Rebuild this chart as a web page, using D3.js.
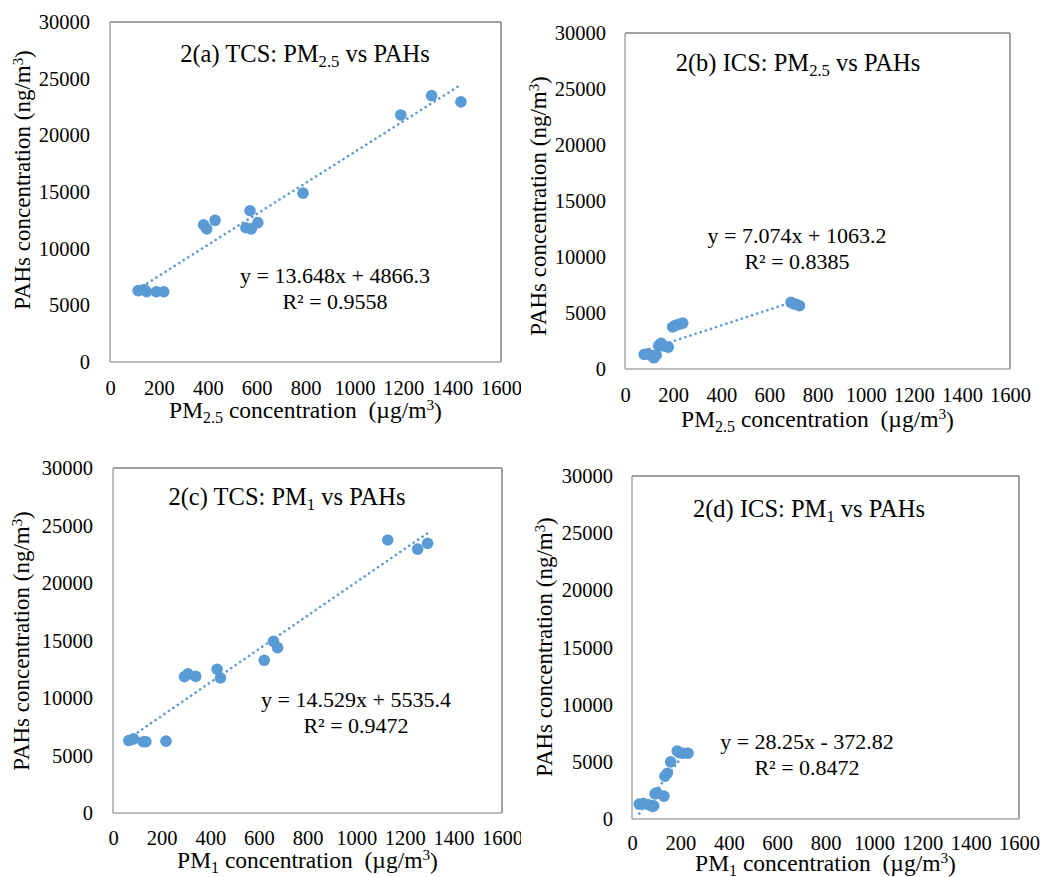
<!DOCTYPE html>
<html>
<head>
<meta charset="utf-8">
<script src="https://cdn.jsdelivr.net/npm/d3@7"></script>
<style>
  html, body { margin: 0; padding: 0; background: #fff; }
  svg { display: block; }
</style>
</head>
<body>
<svg id="chart" width="1052" height="877"></svg>
<script>
// axis ticks (shared by all four panels)
const xTicks = [0, 200, 400, 600, 800, 1000, 1200, 1400, 1600];
const yTicks = [0, 5000, 10000, 15000, 20000, 25000, 30000];

// 2(a) TCS: PM2.5 vs PAHs
const tcsPm25X = [115, 140, 150, 190, 220, 383, 396, 430, 556, 573, 578, 605, 790, 1190, 1316, 1436];
const tcsPm25Y = [6300, 6400, 6200, 6200, 6200, 12100, 11750, 12500, 11850, 13350, 11750, 12300, 14900, 21800, 23500, 22950];

// 2(b) ICS: PM2.5 vs PAHs
const icsPm25X = [80, 95, 110, 120, 130, 140, 150, 162, 180, 198, 210, 225, 240, 690, 705, 725];
const icsPm25Y = [1300, 1350, 1200, 1000, 1250, 2100, 2300, 2050, 1950, 3750, 3900, 4000, 4100, 5950, 5800, 5650];

// 2(c) TCS: PM1 vs PAHs
const tcsPm1X = [65, 85, 125, 135, 218, 294, 308, 340, 428, 442, 622, 660, 677, 1130, 1253, 1294];
const tcsPm1Y = [6300, 6450, 6200, 6200, 6250, 11850, 12100, 11880, 12500, 11750, 13280, 14930, 14380, 23740, 22950, 23450];

// 2(d) ICS: PM1 vs PAHs
const icsPm1X = [30, 48, 68, 85, 90, 95, 102, 132, 136, 146, 160, 187, 196, 212, 232];
const icsPm1Y = [1300, 1350, 1250, 1100, 1150, 2200, 2300, 2000, 3750, 4000, 5000, 5950, 5800, 5750, 5750];

// linear fits as printed on the chart
const fitSlopes = [13.648, 7.074, 14.529, 28.25];
const fitIntercepts = [4866.3, 1063.2, 5535.4, -372.82];
const fitEquations = ["y = 13.648x + 4866.3", "y = 7.074x + 1063.2", "y = 14.529x + 5535.4", "y = 28.25x - 372.82"];
const fitR2 = ["R² = 0.9558", "R² = 0.8385", "R² = 0.9472", "R² = 0.8472"];

const panelNames = ["2(a) TCS: ", "2(b) ICS: ", "2(c) TCS: ", "2(d) ICS: "];
const panelPm = ["2.5", "2.5", "1", "1"];
const panelX = [tcsPm25X, icsPm25X, tcsPm1X, icsPm1X];
const panelY = [tcsPm25Y, icsPm25Y, tcsPm1Y, icsPm1Y];

// layout of each panel in the page (pixels)
const layout = [
  { l: 110, t: 22, r: 501, b: 362, tx: 305, ty: 62, ex: 335, ey: 283, xtb: 395, xlab: 418, ylx: 30, yly: 180, ylr: 90, clip: true },
  { l: 625, t: 33, r: 1010, b: 369, tx: 798, ty: 71, ex: 797, ey: 243, xtb: 402, xlab: 427, ylx: 546, yly: 206, ylr: 606, clip: false },
  { l: 113, t: 468, r: 502, b: 813, tx: 287, ty: 505, ex: 356, ey: 707, xtb: 845, xlab: 868, ylx: 29, yly: 641, ylr: 93, clip: true },
  { l: 632, t: 476, r: 1019, b: 819, tx: 809, ty: 517, ex: 807, ey: 749, xtb: 850, xlab: 871, ylx: 552, yly: 647, ylr: 613, clip: false }
];

const blue = "#5b9bd5";
const serif = '"Liberation Serif", "Times New Roman", Times, serif';
const tickFont = 20.5;

const svg = d3.select("#chart").style("font-family", serif);
const defs = svg.append("defs");
defs.append("clipPath").attr("id", "leftHalf")
  .append("rect").attr("x", 0).attr("y", 0).attr("width", 521).attr("height", 877);

layout.forEach((p, i) => {
  const g = svg.append("g");
  if (p.clip) g.attr("clip-path", "url(#leftHalf)");

  const x = d3.scaleLinear().domain([0, 1600]).range([p.l, p.r]);
  const y = d3.scaleLinear().domain([0, 30000]).range([p.b, p.t]);

  // tick labels
  const xAxis = g.append("g")
    .attr("transform", `translate(0,${p.b})`)
    .call(d3.axisBottom(x).tickValues(xTicks).tickSize(0)
      .tickPadding(p.xtb - p.b - tickFont * 0.71).tickFormat(d3.format("d")));
  const yAxis = g.append("g")
    .attr("transform", `translate(${p.l},0)`)
    .call(d3.axisLeft(y).tickValues(yTicks).tickSize(0)
      .tickPadding(p.l - p.ylr).tickFormat(d3.format("d")));
  [xAxis, yAxis].forEach(a => {
    a.attr("font-family", null).attr("font-size", null);
    a.select(".domain").remove();
    a.selectAll("text").style("font-family", serif)
      .style("font-size", tickFont + "px").attr("fill", "#000");
  });

  // plot frame
  g.append("line").attr("x1", p.l).attr("x2", p.r).attr("y1", p.t).attr("y2", p.t)
    .attr("stroke", "#808080").attr("stroke-width", 1.5);
  g.append("line").attr("x1", p.r).attr("x2", p.r).attr("y1", p.t).attr("y2", p.b)
    .attr("stroke", "#808080").attr("stroke-width", 1.5);
  g.append("line").attr("x1", p.l).attr("x2", p.l).attr("y1", p.t).attr("y2", p.b)
    .attr("stroke", "#a6a6a6").attr("stroke-width", 1.5);
  g.append("line").attr("x1", p.l).attr("x2", p.r).attr("y1", p.b).attr("y2", p.b)
    .attr("stroke", "#a6a6a6").attr("stroke-width", 1.5);

  // points
  const pts = panelX[i].map((v, k) => [v, panelY[i][k]]);
  g.append("g").selectAll("circle")
    .data(pts)
    .join("circle")
    .attr("cx", d => x(d[0]))
    .attr("cy", d => y(d[1]))
    .attr("r", 5.8)
    .attr("fill", blue);

  // dotted trend line over the data range
  const [x0, x1] = d3.extent(panelX[i]);
  const fit = v => fitSlopes[i] * v + fitIntercepts[i];
  g.append("line")
    .attr("x1", x(x0)).attr("y1", y(fit(x0)))
    .attr("x2", x(x1)).attr("y2", y(fit(x1)))
    .attr("stroke", blue).attr("stroke-width", 2.6)
    .attr("stroke-linecap", "round")
    .attr("stroke-dasharray", "0.1 5.3");

  // panel title with subscript
  const title = g.append("text").attr("x", p.tx).attr("y", p.ty)
    .attr("text-anchor", "middle").style("font-family", serif).style("font-size", "24.5px");
  title.append("tspan").text(panelNames[i] + "PM");
  title.append("tspan").style("font-size", "68%").attr("dy", "0.3em").text(panelPm[i]);
  title.append("tspan").attr("dy", "-0.2em").text(" vs PAHs");

  // regression text
  g.append("text").attr("x", p.ex).attr("y", p.ey).attr("text-anchor", "middle")
    .style("font-family", serif).style("font-size", "22px").text(fitEquations[i]);
  g.append("text").attr("x", p.ex).attr("y", p.ey + 26).attr("text-anchor", "middle")
    .style("font-family", serif).style("font-size", "22px").text(fitR2[i]);

  // x axis title
  const xt = g.append("text").attr("x", (p.l + p.r) / 2).attr("y", p.xlab)
    .attr("text-anchor", "middle").style("font-family", serif)
    .style("font-size", "23.5px").style("white-space", "pre");
  xt.append("tspan").text("PM");
  xt.append("tspan").style("font-size", "68%").attr("dy", "0.3em").text(panelPm[i]);
  xt.append("tspan").attr("dy", "-0.2em").text(" concentration  (µg/m");
  xt.append("tspan").style("font-size", "65%").attr("dy", "-0.5em").text("3");
  xt.append("tspan").attr("dy", "0.35em").text(")");

  // y axis title
  const yt = g.append("text")
    .attr("transform", `translate(${p.ylx},${p.yly}) rotate(-90)`)
    .attr("text-anchor", "middle").style("font-family", serif).style("font-size", "23px");
  yt.append("tspan").text("PAHs concentration (ng/m");
  yt.append("tspan").style("font-size", "65%").attr("dy", "-0.5em").text("3");
  yt.append("tspan").attr("dy", "0.35em").text(")");
});
</script>
</body>
</html>
